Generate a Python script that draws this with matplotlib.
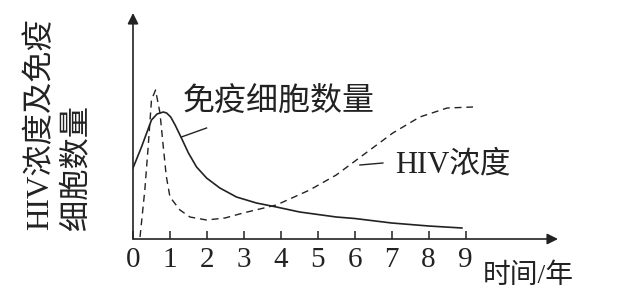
import matplotlib
matplotlib.use("Agg")
import matplotlib.pyplot as plt

# 免疫细胞数量 (实线)
cell_x = [0, 0.23, 0.5, 0.65, 0.82, 0.91, 1.02, 1.14, 1.31, 1.5, 1.72, 1.99, 2.35, 2.8, 3.34, 3.88, 4.51, 5.5, 6.0, 7.0, 8.0, 8.9]
cell_y = [7.1, 9.2, 11.9, 12.5, 12.7, 12.6, 12.2, 11.4, 10.1, 8.6, 7.2, 6.1, 5.1, 4.2, 3.6, 3.2, 2.7, 2.2, 2.05, 1.6, 1.3, 1.1]

# HIV浓度 (虚线)
hiv_x = [0.19, 0.32, 0.41, 0.5, 0.61, 0.73, 0.82, 0.9, 1.0, 1.27, 1.54, 1.99, 2.49, 2.98, 3.88, 4.78, 5.5, 6.3, 7.03, 7.76, 8.5, 9.2]
hiv_y = [0.2, 4.9, 9.2, 13.9, 14.9, 12.6, 9.2, 6.3, 4.2, 2.9, 2.2, 1.9, 2.1, 2.6, 3.4, 4.9, 6.4, 8.6, 10.6, 12.2, 13.1, 13.2]

xticks = list(range(10))

FONT = ['Liberation Serif', 'Noto Sans CJK SC']

fig = plt.figure(figsize=(6.2, 2.97), dpi=100)
ax = fig.add_axes([133 / 620, 58 / 297, 425 / 620, 226 / 297])
ax.set_xlim(0, 11.5)
ax.set_ylim(0, 22.6)

ax.plot(cell_x, cell_y, color='#222222', lw=1.2)
ax.plot(hiv_x, hiv_y, color='#222222', lw=1.0, linestyle=(0, (5, 3.5)))

for s in ax.spines.values():
    s.set_visible(False)

arr = dict(arrowstyle='-|>', color='#222222', lw=1.2, mutation_scale=16, shrinkA=0, shrinkB=0)
ax.annotate('', xy=(1, 0), xytext=(0, 0), xycoords='axes fraction', arrowprops=arr)
ax.annotate('', xy=(0, 1), xytext=(0, 0), xycoords='axes fraction', arrowprops=arr)

ax.set_xticks(xticks)
ax.set_xticklabels([str(t) for t in xticks], family=FONT, fontsize=21, color='#222222')
ax.tick_params(axis='x', direction='in', length=5.8, width=1.1, pad=6, color='#222222')
ax.set_yticks([])

# 标注
ax.plot([1.31, 1.99], [10.2, 11.1], color='#222222', lw=1.0)
ax.text(1.35, 13.6, '免疫细胞数量', family=FONT, fontsize=23, fontweight='light',
        va='center', ha='left', color='#222222')
ax.plot([6.14, 6.76], [7.4, 7.6], color='#222222', lw=1.0)
ax.text(7.08, 7.4, 'HIV浓度', family=FONT, fontsize=22, fontweight='light',
        va='center', ha='left', color='#222222')

fig.text(40 / 620, (297 - 230) / 297, 'HIV浓度及免疫', family=FONT, fontsize=22.5, fontweight='light',
         rotation=90, ha='center', va='bottom', color='#222222')
fig.text(78 / 620, (297 - 230) / 297, '细胞数量', family=FONT, fontsize=22.5, fontweight='light',
         rotation=90, ha='center', va='bottom', color='#222222')
fig.text(483 / 620, (297 - 276) / 297, '时间/年', family=FONT, fontsize=20, fontweight='light',
         ha='left', va='center', color='#222222')

fig.savefig('out.png', dpi=100)
